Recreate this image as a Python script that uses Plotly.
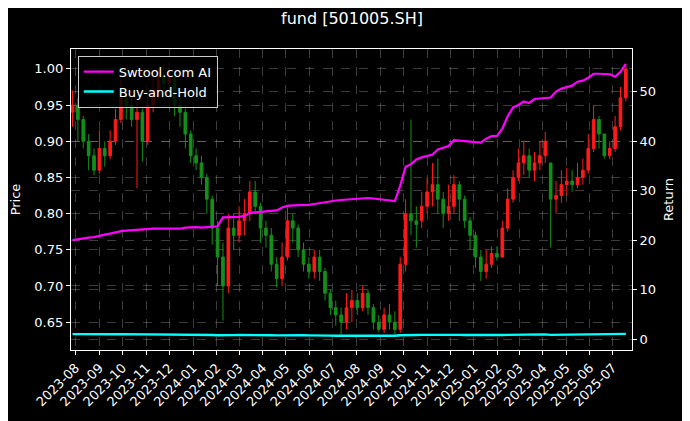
import pandas as pd
import plotly.graph_objects as go

# ---- data (weekly) ----
dates = pd.date_range("2023-07-28", periods=104, freq="7D")

open_ = [0.94,0.95,0.93,0.90,0.88,0.86,0.89,0.88,0.90,0.93,
         0.96,0.95,0.93,0.94,0.90,0.95,0.97,0.99,0.98,0.99,
         0.95,0.94,0.91,0.88,0.87,0.85,0.82,0.78,0.74,0.70,
         0.78,0.77,0.79,0.80,0.83,0.81,0.78,0.77,0.73,0.71,
         0.74,0.79,0.78,0.75,0.73,0.72,0.74,0.72,0.69,0.67,
         0.66,0.65,0.67,0.68,0.67,0.69,0.67,0.65,0.64,0.66,
         0.65,0.64,0.73,0.80,0.79,0.79,0.81,0.83,0.84,0.82,
         0.80,0.81,0.84,0.82,0.79,0.77,0.74,0.72,0.73,0.745,
         0.74,0.78,0.82,0.85,0.87,0.88,0.86,0.87,0.88,0.87,
         0.82,0.825,0.84,0.845,0.84,0.85,0.86,0.89,0.93,0.91,
         0.88,0.89,0.92,0.96]
high = [0.97,0.96,0.935,0.91,0.89,0.915,0.90,0.915,0.945,0.985,
        0.97,0.96,0.96,0.945,0.965,0.99,1.00,1.005,1.01,0.995,
        0.96,0.945,0.915,0.89,0.88,0.855,0.825,0.79,0.76,0.80,
        0.80,0.81,0.82,0.845,0.845,0.815,0.79,0.78,0.74,0.76,
        0.808,0.80,0.785,0.76,0.74,0.75,0.75,0.725,0.695,0.68,
        0.67,0.69,0.695,0.69,0.70,0.695,0.675,0.66,0.67,0.675,
        0.665,0.74,0.82,0.93,0.81,0.83,0.85,0.87,0.876,0.83,
        0.84,0.853,0.845,0.825,0.795,0.775,0.75,0.75,0.755,0.755,
        0.79,0.835,0.86,0.89,0.90,0.89,0.885,0.90,0.913,0.87,
        0.845,0.86,0.863,0.86,0.87,0.876,0.91,0.95,0.935,0.91,
        0.90,0.935,0.975,1.004]
low = [0.92,0.90,0.89,0.86,0.853,0.855,0.865,0.875,0.895,0.925,
       0.93,0.92,0.835,0.872,0.895,0.94,0.96,0.96,0.97,0.935,
       0.92,0.89,0.87,0.86,0.84,0.80,0.757,0.70,0.652,0.69,
       0.75,0.76,0.77,0.79,0.80,0.76,0.753,0.72,0.698,0.70,
       0.735,0.76,0.74,0.72,0.71,0.71,0.707,0.68,0.66,0.645,
       0.633,0.64,0.65,0.66,0.665,0.66,0.64,0.636,0.635,0.64,
       0.633,0.635,0.72,0.77,0.753,0.78,0.80,0.81,0.80,0.78,
       0.79,0.80,0.79,0.78,0.75,0.725,0.707,0.71,0.725,0.735,
       0.739,0.775,0.815,0.845,0.853,0.85,0.845,0.86,0.87,0.753,
       0.80,0.815,0.825,0.83,0.835,0.84,0.855,0.885,0.89,0.876,
       0.875,0.885,0.915,0.955]
close = [0.95,0.93,0.90,0.88,0.86,0.89,0.88,0.90,0.93,0.96,
         0.95,0.93,0.94,0.90,0.95,0.97,0.99,0.98,0.99,0.95,
         0.94,0.91,0.88,0.87,0.85,0.82,0.78,0.74,0.70,0.78,
         0.77,0.79,0.80,0.83,0.81,0.78,0.77,0.73,0.71,0.74,
         0.79,0.78,0.75,0.73,0.72,0.74,0.72,0.69,0.67,0.66,
         0.65,0.67,0.68,0.67,0.69,0.67,0.65,0.64,0.66,0.65,
         0.64,0.73,0.80,0.79,0.785,0.81,0.83,0.84,0.82,0.80,
         0.81,0.84,0.82,0.79,0.77,0.74,0.72,0.73,0.745,0.74,
         0.78,0.82,0.85,0.87,0.88,0.86,0.87,0.88,0.90,0.82,
         0.825,0.84,0.845,0.84,0.85,0.86,0.89,0.93,0.91,0.88,
         0.89,0.92,0.96,1.00]

strategy_return = [20.0,20.2,20.4,20.5,20.6,20.9,21.1,21.3,21.6,21.8,
                   21.9,22.0,22.1,22.2,22.3,22.3,22.3,22.3,22.3,22.2,
                   22.3,22.5,22.6,22.6,22.5,22.6,22.7,22.8,24.6,24.6,
                   24.6,24.7,24.9,25.5,25.6,25.7,25.8,25.9,26.0,26.6,
                   26.9,27.0,27.0,27.1,27.1,27.3,27.5,27.7,27.9,28.0,
                   28.1,28.2,28.2,28.3,28.4,28.5,28.4,28.3,28.1,28.0,
                   27.9,31.0,34.8,35.3,36.3,36.7,37.0,37.3,38.3,38.7,
                   39.0,40.2,40.1,40.0,39.9,39.8,39.7,40.5,41.0,41.0,
                   42.5,45.0,46.8,47.3,48.0,47.7,48.5,48.6,48.7,48.8,
                   50.0,50.6,50.9,51.2,52.0,52.2,52.8,53.6,53.6,53.6,
                   53.5,53.0,54.0,55.6]
buyhold_return = [1.00,0.98,0.95,0.93,0.91,0.94,0.93,0.95,0.98,1.01,
                  1.00,0.98,0.99,0.95,1.00,1.02,1.04,1.03,1.04,1.00,
                  0.99,0.96,0.93,0.92,0.89,0.86,0.82,0.78,0.74,0.82,
                  0.81,0.83,0.84,0.87,0.85,0.82,0.81,0.77,0.75,0.78,
                  0.83,0.82,0.79,0.77,0.76,0.78,0.76,0.73,0.71,0.69,
                  0.68,0.71,0.72,0.71,0.73,0.71,0.68,0.67,0.69,0.68,
                  0.67,0.77,0.84,0.83,0.83,0.85,0.87,0.88,0.86,0.84,
                  0.85,0.88,0.86,0.83,0.81,0.78,0.76,0.77,0.78,0.78,
                  0.82,0.86,0.89,0.92,0.93,0.91,0.92,0.93,0.95,0.86,
                  0.87,0.88,0.89,0.88,0.89,0.91,0.94,0.98,0.96,0.93,
                  0.94,0.97,1.01,1.05]

month_labels = ["2023-08","2023-09","2023-10","2023-11","2023-12",
                "2024-01","2024-02","2024-03","2024-04","2024-05","2024-06",
                "2024-07","2024-08","2024-09","2024-10","2024-11","2024-12",
                "2025-01","2025-02","2025-03","2025-04","2025-05","2025-06","2025-07"]
price_ticks = [0.65,0.70,0.75,0.80,0.85,0.90,0.95,1.00]
return_ticks = [0,10,20,30,40,50]
title_text = "fund [501005.SH]"

FONT = "DejaVu Sans"
GRID = "rgba(150,150,150,0.4)"
W, H = 682, 413  # page body has an 8px default margin
M_T, M_B = 41, 71
PLOT_H = H - M_T - M_B

fig = go.Figure()
fig.add_trace(go.Candlestick(
    x=dates, open=open_, high=high, low=low, close=close,
    increasing=dict(line=dict(color="#ff1a1a", width=1), fillcolor="#ff1a1a"),
    decreasing=dict(line=dict(color="#13901a", width=1), fillcolor="#13901a"),
    whiskerwidth=0, showlegend=False, yaxis="y", name="Price"))
fig.add_trace(go.Scatter(x=dates, y=strategy_return, mode="lines", name="Swtool.com AI",
                         line=dict(color="#ff00ff", width=2.2), yaxis="y2"))
fig.add_trace(go.Scatter(x=dates, y=buyhold_return, mode="lines", name="Buy-and-Hold",
                         line=dict(color="#00ffff", width=2.4), yaxis="y2"))

fig.add_annotation(text=title_text, xref="paper", yref="paper", x=0.5,
                   y=1 + 31 / PLOT_H, xanchor="center", yanchor="middle",
                   showarrow=False, font=dict(size=16, color="white", family=FONT))

fig.update_layout(
    width=W, height=H,
    paper_bgcolor="black", plot_bgcolor="black",
    margin=dict(l=63, r=58, t=M_T, b=M_B, autoexpand=False),
    font=dict(family=FONT, color="white", size=13),
    showlegend=True,
    legend=dict(x=0.012, y=0.978, xanchor="left", yanchor="top",
                bgcolor="rgba(0,0,0,0.8)", bordercolor="#cccccc", borderwidth=1,
                font=dict(size=13, color="white"), itemwidth=30, tracegroupgap=2),
    xaxis=dict(type="date", range=["2023-07-26", "2025-07-26"], automargin=False,
               rangeslider=dict(visible=False),
               tickvals=[m + "-01" for m in month_labels], ticktext=month_labels,
               tickangle=-45, ticks="outside", ticklen=4, tickcolor="white",
               showline=True, linecolor="white", linewidth=1.2, mirror=True,
               showgrid=True, gridcolor=GRID, griddash="dash", gridwidth=0.6,
               zeroline=False, tickfont=dict(size=13)),
    yaxis=dict(range=[0.6115, 1.0275], tickvals=price_ticks, tickformat=".2f", automargin=False,
               title=dict(text="Price", standoff=10, font=dict(size=13)),
               ticks="outside", ticklen=4, tickcolor="white",
               showline=True, linecolor="white", linewidth=1.2, mirror=True,
               showgrid=True, gridcolor=GRID, griddash="dash", gridwidth=0.6, zeroline=False),
    yaxis2=dict(range=[-2.2, 58.6], tickvals=return_ticks, overlaying="y", side="right",
                automargin=False,
                title=dict(text="Return", standoff=8, font=dict(size=13)),
                ticks="outside", ticklen=4, tickcolor="white",
                showline=False, showgrid=True, gridcolor=GRID, griddash="dash", gridwidth=0.6,
                zeroline=False),
)

fig.write_html("out.html")
